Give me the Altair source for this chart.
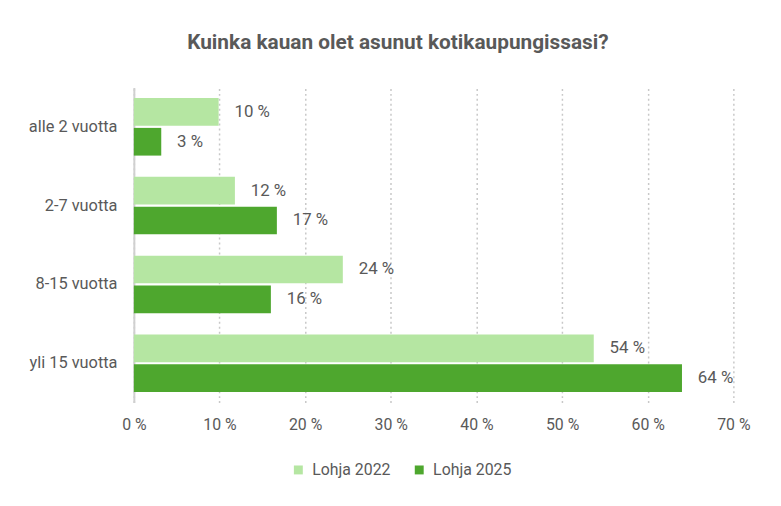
import altair as alt
import pandas as pd

categories = ["alle 2 vuotta", "2-7 vuotta", "8-15 vuotta", "yli 15 vuotta"]
series = ["Lohja 2022", "Lohja 2025"]
values_2022 = [9.9, 11.8, 24.4, 53.7]
values_2025 = [3.2, 16.7, 16.0, 64.0]
x_ticks = [0, 10, 20, 30, 40, 50, 60, 70]
colors = ["#b5e6a2", "#4ea72e"]

rows = []
for c, v in zip(categories, values_2022):
    rows.append({"cat": c, "series": series[0], "value": v})
for c, v in zip(categories, values_2025):
    rows.append({"cat": c, "series": series[1], "value": v})
df = pd.DataFrame(rows)

FONT = "Roboto"
GRAY = "#595959"

base = alt.Chart(df).encode(
    y=alt.Y("cat:N", sort=categories, title=None,
            scale=alt.Scale(paddingInner=0.27, paddingOuter=0.135),
            axis=alt.Axis(labelFontSize=16.5, labelColor=GRAY, labelFont=FONT,
                          labelPadding=17, ticks=False, domainColor="#d0d0d0",
                          domainWidth=2)),
    yOffset=alt.YOffset("series:N", sort=series,
                        scale=alt.Scale(paddingInner=0.07)),
)

bars = base.mark_bar().encode(
    x=alt.X("value:Q", title=None,
            scale=alt.Scale(domain=[0, 70], nice=False),
            axis=alt.Axis(values=x_ticks, labelExpr="datum.value + ' %'",
                          labelFontSize=16, labelColor=GRAY, labelFont=FONT,
                          labelPadding=14, ticks=False, domain=False,
                          labelFlush=False,
                          grid=True, gridDash=[2, 3], gridColor="#c8c8c8",
                          gridWidth=1.5)),
    color=alt.Color("series:N", sort=series,
                    scale=alt.Scale(domain=series, range=colors),
                    legend=alt.Legend(title=None, orient="none", legendX=158,
                                      legendY=378, direction="horizontal",
                                      symbolType="square", symbolSize=81,
                                      symbolStrokeWidth=0,
                                      labelFontSize=16, labelColor=GRAY,
                                      labelFont=FONT, columnPadding=20,
                                      labelOffset=6)),
)

labels = base.mark_text(align="left", baseline="middle", dx=16,
                        fontSize=17, color=GRAY, font=FONT).encode(
    x=alt.X("value:Q"),
    text=alt.Text("label:N"),
).transform_calculate(label="format(datum.value, '.0f') + ' %'")

chart = alt.layer(bars, labels).properties(
    width=605, height=318,
    autosize=alt.AutoSizeParams(type="none"),
    padding={"left": 127, "top": 78, "right": 40, "bottom": 80},
    title=alt.TitleParams("Kuinka kauan olet asunut kotikaupungissasi?",
                          fontSize=21, fontWeight="bold", color=GRAY,
                          font=FONT, anchor="middle", dx=-36, offset=35),
).configure_view(stroke=None)

chart.save("out.html", embed_options={"renderer": "svg", "actions": False})
